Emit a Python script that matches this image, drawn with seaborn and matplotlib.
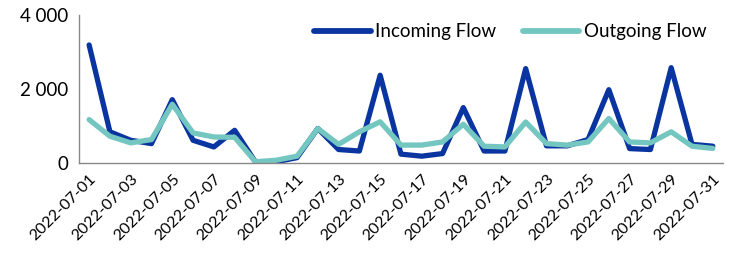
import numpy as np
import pandas as pd
import seaborn as sns
import matplotlib.pyplot as plt
from matplotlib.ticker import FuncFormatter

# Daily flows, July 2022
dates = pd.date_range('2022-07-01', '2022-07-31').strftime('%Y-%m-%d').tolist()
incoming = [3200, 850, 620, 530, 1720, 620, 440, 890, 35, 40,
            150, 940, 370, 330, 2380, 245, 190, 260, 1505, 330,
            330, 2560, 470, 470, 640, 1990, 395, 370, 2585, 510, 460]
outgoing = [1180, 730, 550, 640, 1595, 820, 710, 700, 40, 80,
            190, 940, 510, 850, 1120, 490, 490, 575, 1055, 460,
            440, 1115, 530, 490, 575, 1210, 575, 550, 850, 460, 400]

df = pd.DataFrame({'day': np.arange(len(dates)),
                   'Incoming Flow': incoming,
                   'Outgoing Flow': outgoing})
long = df.melt(id_vars='day', var_name='series', value_name='value')

sns.set_style('white')
plt.rcParams['font.family'] = ['Lato', 'DejaVu Sans']
plt.rcParams['text.color'] = 'black'
plt.rcParams['xtick.labelcolor'] = 'black'
plt.rcParams['ytick.labelcolor'] = 'black'

fig, ax = plt.subplots(figsize=(7.29, 2.57), dpi=100)
sns.lineplot(data=long, x='day', y='value', hue='series',
             palette={'Incoming Flow': '#0A35A0', 'Outgoing Flow': '#74C6C0'},
             linewidth=3.8, ax=ax)

ax.set_xlim(-0.5, len(dates) - 0.5)
ax.set_ylim(0, 4000)
ax.set_yticks([0, 2000, 4000])
ax.yaxis.set_major_formatter(FuncFormatter(lambda v, p: f'{int(v):,}'.replace(',', ' ')))
ax.set_xticks(np.arange(0, len(dates), 2))
ax.set_xticklabels(dates[::2], rotation=45, ha='right', rotation_mode='anchor')
ax.set_xticks(np.arange(-0.5, len(dates), 1), minor=True)
ax.tick_params(axis='x', which='major', length=0, labelsize=11.5, pad=6)
ax.tick_params(axis='x', which='minor', length=4, color='#888888', width=1, direction='out')
ax.tick_params(axis='y', length=4, color='#888888', width=1, direction='out', labelsize=13.5)
ax.set_xlabel('')
ax.set_ylabel('')

for s in ['top', 'right']:
    ax.spines[s].set_visible(False)
for s in ['left', 'bottom']:
    ax.spines[s].set_color('#888888')
    ax.spines[s].set_linewidth(1)

leg = ax.legend(loc='upper right', bbox_to_anchor=(1.0, 1.06), ncol=2, frameon=False,
                fontsize=13.5, handlelength=3.0, handletextpad=0.25, columnspacing=1.4)
leg.set_title(None)
for line in leg.get_lines():
    line.set_linewidth(4.2)
for t in leg.get_texts():
    t.set_color('black')

fig.subplots_adjust(left=0.108, right=0.992, top=0.94, bottom=0.365)
fig.savefig('out.png', dpi=100)
